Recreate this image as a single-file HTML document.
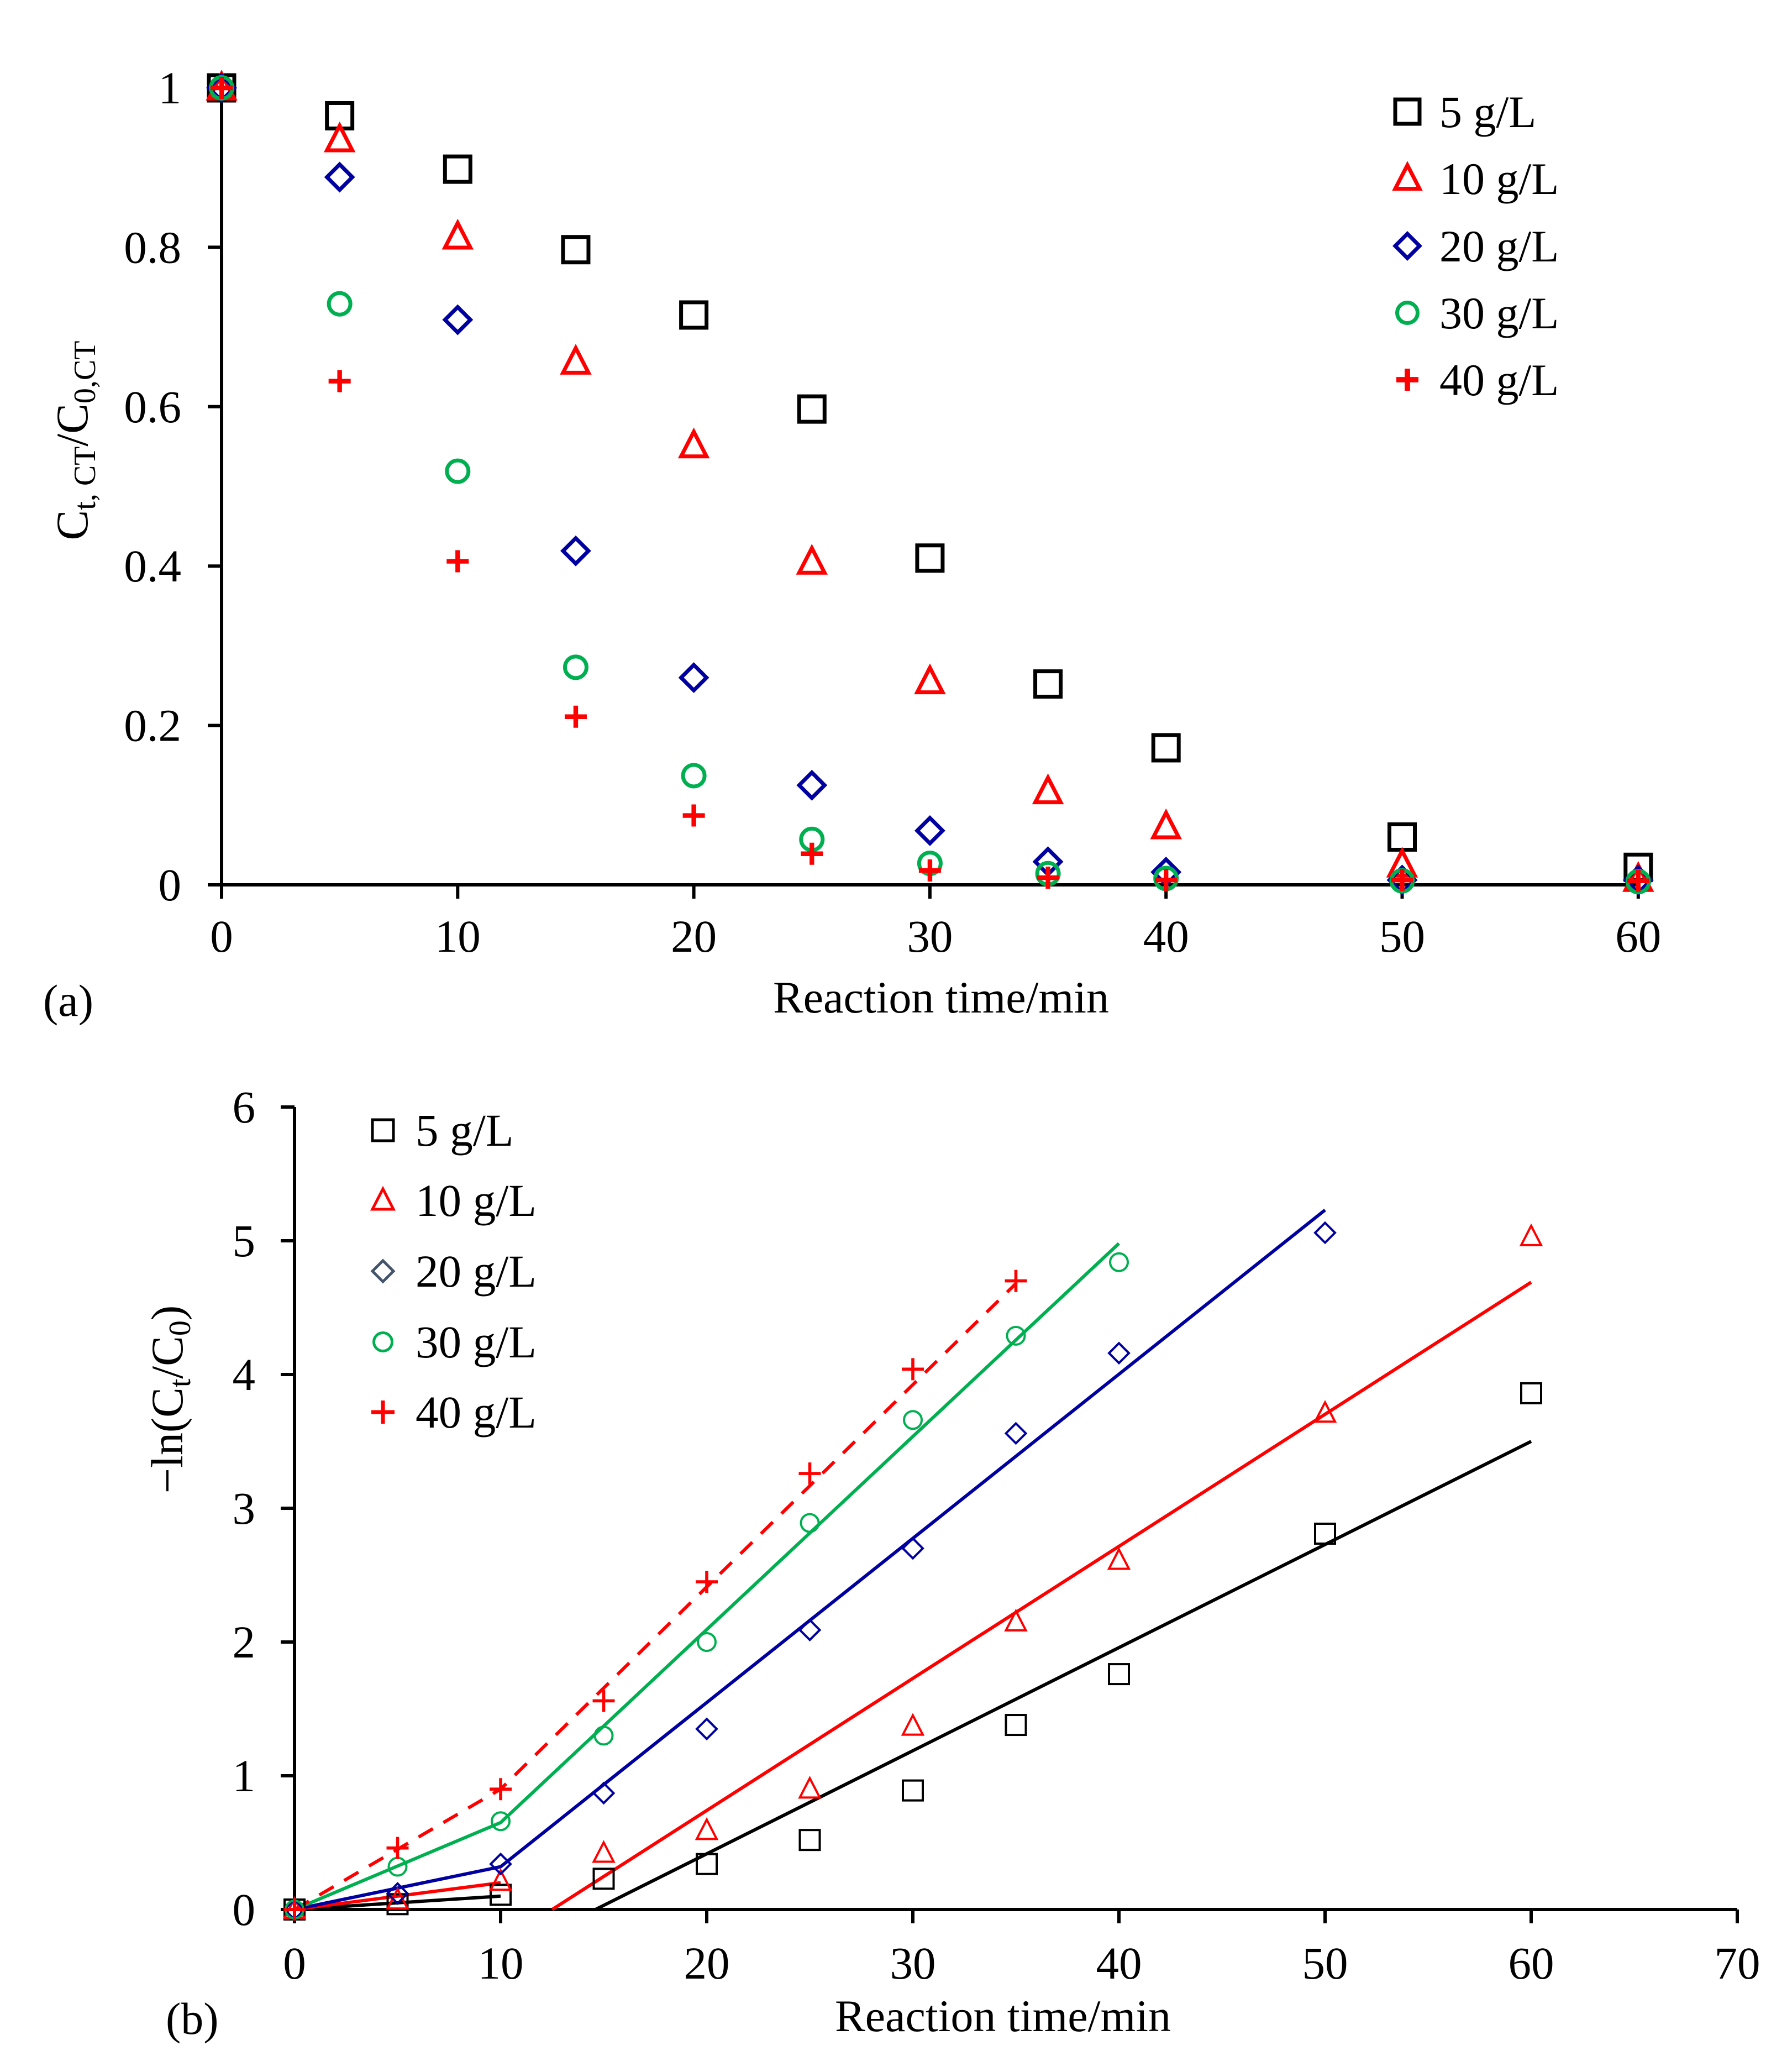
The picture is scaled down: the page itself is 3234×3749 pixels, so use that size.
<!DOCTYPE html>
<html><head><meta charset="utf-8"><style>
html,body{margin:0;padding:0;background:#fff;}
svg{display:block;font-family:"Liberation Serif",serif;}
</style></head><body>
<svg id="fig" width="3234" height="3749" viewBox="0 0 3234 3749"></svg>
<script>
const timesA=[0,5,10,15,20,25,30,35,40,50,60];
const a5=[1,0.965,0.898,0.797,0.715,0.597,0.41,0.252,0.172,0.06,0.022];
const a10=[1,0.935,0.813,0.656,0.551,0.405,0.255,0.117,0.073,0.025,0.007];
const a20=[1,0.888,0.709,0.419,0.26,0.125,0.068,0.029,0.016,0.006,0.006];
const a30=[1,0.729,0.519,0.273,0.137,0.057,0.027,0.014,0.008,0.005,0.004];
const a40=[1,0.632,0.406,0.211,0.087,0.039,0.018,0.009,0.006,0.006,0.005];
const b5=[0,0.04,0.11,0.23,0.34,0.52,0.89,1.38,1.76,2.81,3.86];
const b10=[0,0.07,0.21,0.42,0.59,0.90,1.37,2.15,2.61,3.71,5.03];
const b20=[0,0.12,0.34,0.87,1.35,2.09,2.70,3.56,4.16,5.06];
const b30=[0,0.32,0.66,1.30,2.00,2.89,3.66,4.29,4.84];
const b40=[0,0.46,0.90,1.56,2.45,3.26,4.04,4.70];
const fit5=[[0,0],[10,0.1],null,[14.6,0],[60,3.5]];
const fit10=[[0,0],[10,0.2],null,[12.5,0],[60,4.69]];
const fit20=[[0,0],[10,0.32],[50,5.23]];
const fit30=[[0,0],[10,0.65],[40,4.98]];
const fit40=[[0,0],[10,0.9],[35,4.68]];
const xTicksA=[0,10,20,30,40,50,60];
const yTicksA=[0,0.2,0.4,0.6,0.8,1];
const yTickLabA=["0","0.2","0.4","0.6","0.8","1"];
const xTicksB=[0,10,20,30,40,50,60,70];
const yTicksB=[0,1,2,3,4,5,6];
const legendLabels=["5 g/L","10 g/L","20 g/L","30 g/L","40 g/L"];

const NS="http://www.w3.org/2000/svg";
const svg=document.getElementById('fig');
function el(tag,attrs,parent,text){const e=document.createElementNS(NS,tag);for(const k in attrs)e.setAttribute(k,attrs[k]);if(text!==undefined)e.textContent=text;(parent||svg).appendChild(e);return e;}

const xA=t=>401+t*42.73, yA=v=>1601-v*1442;
const xB=t=>533+t*37.3, yB=v=>3455-v*242;

function marker(g,type,cx,cy,s,color,sw){
  let m;
  if(type==='sq') m=el('rect',{x:cx-s/2,y:cy-s/2,width:s,height:s,fill:'none',stroke:color,'stroke-width':sw},g);
  else if(type==='tri') m=el('polygon',{points:`${cx},${cy-s*0.55} ${cx-s/2},${cy+s*0.42} ${cx+s/2},${cy+s*0.42}`,fill:'none',stroke:color,'stroke-width':sw,'stroke-linejoin':'miter'},g);
  else if(type==='dia') m=el('polygon',{points:`${cx},${cy-s/2} ${cx+s/2},${cy} ${cx},${cy+s/2} ${cx-s/2},${cy}`,fill:'none',stroke:color,'stroke-width':sw},g);
  else if(type==='cir') m=el('circle',{cx:cx,cy:cy,r:s/2-sw/2,fill:'none',stroke:color,'stroke-width':sw},g);
  else {m=el('path',{d:`M${cx-s/2},${cy}H${cx+s/2}M${cx},${cy-s/2}V${cy+s/2}`,stroke:color,'stroke-width':sw*1.4,fill:'none'},g);}
  return m;
}
const types=['sq','tri','dia','cir','plus'];
const colsA=['#000','#f00','#0000a0','#00b050','#f00'];

// ===== Chart A =====
const gA=el('g',{});


const axA=el('g',{stroke:'#000','stroke-width':6},gA);


el('line',{x1:xA(0),y1:yA(1)+12,x2:xA(0),y2:yA(0)+25},axA);
el('line',{x1:xA(0)-25,y1:yA(0),x2:xA(60),y2:yA(0)},axA);
xTicksA.forEach(t=>{el('line',{x1:xA(t),y1:yA(0),x2:xA(t),y2:yA(0)+25},axA);
  const tx=el('text',{x:xA(t),y:1722,'font-size':83,'text-anchor':'middle'},gA,String(t));
  
  });
yTicksA.forEach((v,i)=>{el('line',{x1:xA(0)-25,y1:yA(v),x2:xA(0),y2:yA(v)},axA);
  const tx=el('text',{x:328,y:yA(v)+28,'font-size':83,'text-anchor':'end'},gA,yTickLabA[i]);
  
  });
[a5,a10,a20,a30,a40].forEach((s,si)=>{
  const g=el('g',{},gA);
  
  
  s.forEach((v,i)=>marker(g,types[si],xA(timesA[i]),yA(v),si===4?40:46,colsA[si],si===4?6:7));
});
const xtA=el('text',{x:1703,y:1832,'font-size':82,'text-anchor':'middle'},gA,'Reaction time/min');


const ytA=el('text',{x:0,y:0,'font-size':82,'text-anchor':'middle',transform:'translate(158,797) rotate(-90)'},gA);


ytA.innerHTML='C<tspan font-size="56" dy="14">t, CT</tspan><tspan dy="-14">/C</tspan><tspan font-size="56" dy="14">0,CT</tspan>';
const pa=el('text',{x:78,y:1838,'font-size':82},gA,'(a)');


const legA=el('g',{},gA);


[202,323,445,566,687].forEach((y,i)=>{
  const e=el('g',{},legA);
  
  
  marker(e,types[i],2547,y,i===4?40:44,colsA[i],7);
  el('text',{x:2605,y:y+28,'font-size':82},e,legendLabels[i]);
});

// ===== Chart B =====
const gB=el('g',{});


const axB=el('g',{stroke:'#000','stroke-width':6},gB);


el('line',{x1:xB(0),y1:yB(6),x2:xB(0),y2:yB(0)+25},axB);
el('line',{x1:xB(0)-25,y1:yB(0),x2:xB(70),y2:yB(0)},axB);
xTicksB.forEach(t=>{el('line',{x1:xB(t),y1:yB(0),x2:xB(t),y2:yB(0)+25},axB);
  const tx=el('text',{x:xB(t),y:3580,'font-size':83,'text-anchor':'middle'},gB,String(t));
  
  });
yTicksB.forEach(v=>{el('line',{x1:xB(0)-25,y1:yB(v),x2:xB(0),y2:yB(v)},axB);
  const tx=el('text',{x:462,y:yB(v)+28,'font-size':83,'text-anchor':'end'},gB,String(v));
  
  });
const colsB=['#000','#f00','#0000a0','#00b050','#f00'];
[fit5,fit10,fit20,fit30,fit40].forEach((f,si)=>{
  let d='',pen=false;
  f.forEach(p=>{if(!p){pen=false;return;}d+=(pen?'L':'M')+xB(p[0])+','+yB(p[1]);pen=true;});
  const ln=el('path',{d:d,fill:'none',stroke:colsB[si],'stroke-width':6,'stroke-dasharray':si===4?'30 22':'none'},gB);
  
  
});
[b5,b10,b20,b30,b40].forEach((s,si)=>{
  const g=el('g',{},gB);
  
  
  s.forEach((v,i)=>marker(g,types[si],xB(timesA[i]),yB(v),si===4?40:36,colsB[si],4));
});
const xtB=el('text',{x:1815,y:3675,'font-size':82,'text-anchor':'middle'},gB,'Reaction time/min');


const ytB=el('text',{x:0,y:0,'font-size':82,'text-anchor':'middle',transform:'translate(330,2532) rotate(-90)'},gB);


ytB.innerHTML='−ln(C<tspan font-size="56" dy="14">t</tspan><tspan dy="-14">/C</tspan><tspan font-size="56" dy="14">0</tspan><tspan dy="-14">)</tspan>';
const pb=el('text',{x:300,y:3680,'font-size':82},gB,'(b)');


const legB=el('g',{},gB);


const legColsB=['#000','#f00','#44546a','#00b050','#f00'];
[2045,2172,2300,2428,2555].forEach((y,i)=>{
  const e=el('g',{},legB);
  
  
  marker(e,types[i],693,y,i===4?42:38,legColsB[i],5);
  el('text',{x:752,y:y+28,'font-size':83},e,legendLabels[i]);
});
</script>
</body></html>
